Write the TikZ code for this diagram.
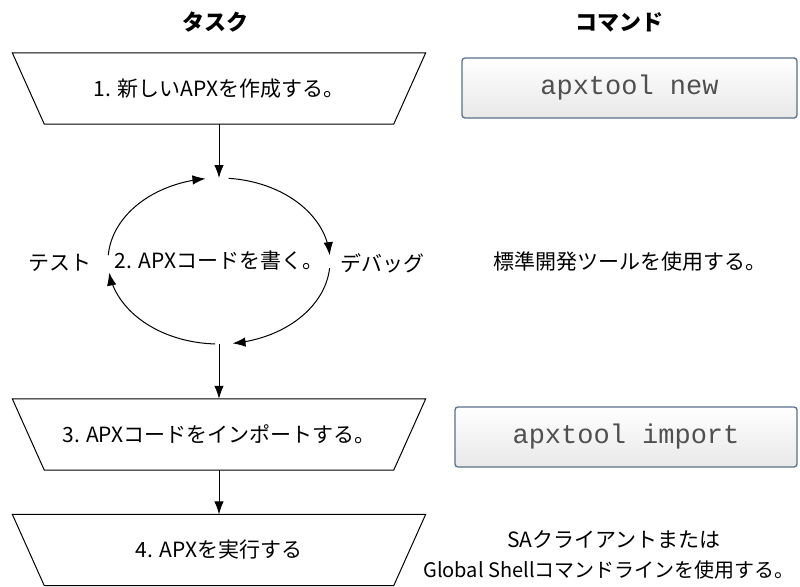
\documentclass[tikz,border=0pt]{standalone}
\usepackage{fontspec}
\setmainfont{Noto Sans CJK JP}
\newfontfamily\monofont{Liberation Mono}
\usetikzlibrary{arrows.meta}
\definecolor{boxedge}{RGB}{88,112,140}
\definecolor{cmdtext}{RGB}{80,80,80}
\tikzset{
  lw/.style={line width=1pt, draw=black},
  arr/.style={lw, -{Latex[length=13pt,width=9.5pt]}},
  tasktext/.style={font=\fontsize{21}{24}\selectfont, inner sep=0pt, minimum width=349pt, minimum height=71pt},
  head/.style={font=\fontsize{22}{26}\selectfont\bfseries},
  plain/.style={font=\fontsize{21}{26}\selectfont, align=center},
  cmdbox/.style={draw=boxedge, line width=1.3pt, rounded corners=3pt, top color=white, bottom color=black!9, minimum height=60pt, font=\monofont\fontsize{27}{30}\selectfont, text=cmdtext},
}
\newcommand{\trapz}[1]{%
  \draw[lw] ([xshift=-32pt]#1.north west) -- ([xshift=32pt]#1.north east) -- (#1.south east) -- (#1.south west) -- cycle;}
\begin{document}
\begin{tikzpicture}[x=1pt,y=-1pt]
\useasboundingbox (0,0) rectangle (800,586);
% headers
\node[head] (h1) at (215,22) {タスク};
\node[head] (h2) at (619,22) {コマンド};
% tasks
\node[tasktext] (t1) at (219,88.5) {1. 新しいAPXを作成する。};
\trapz{t1}
\node[tasktext] (t3) at (219,434.5) {3. APXコードをインポートする。};
\trapz{t3}
\node[tasktext] (t4) at (219,550) {4. APXを実行する};
\trapz{t4}
% commands
\node[cmdbox, minimum width=335pt] (c1) at (629.5,88) {apxtool new};
\node[cmdbox, minimum width=342pt] (c3) at (626,437) {apxtool import};
\node[plain] (c2) at (630,262) {標準開発ツールを使用する。};
\node[plain] (c4a) at (614,540) {SAクライアントまたは};
\node[plain, font=\fontsize{20}{24}\selectfont] (c4b) at (609,570) {Global Shellコマンドラインを使用する。};
% loop
\coordinate (ec) at (219,261);
\coordinate (etop) at (219,178);
\coordinate (ebot) at (219,344);
\node[plain] (l2) at (ec) {2. APXコードを書く。};
\node[plain] (lt) at (60,263) {テスト};
\node[plain] (ld) at (382,263) {デバッグ};
\begin{scope}[shift={(ec)}]
\draw[arr] plot[domain=184:263, samples=40, smooth, variable=\t] ({111*cos(\t)},{83*sin(\t)});
\draw[arr] plot[domain=275:356, samples=40, smooth, variable=\t] ({111*cos(\t)},{83*sin(\t)});
\draw[arr] plot[domain=5:83, samples=40, smooth, variable=\t] ({111*cos(\t)},{83*sin(\t)});
\draw[arr] plot[domain=92:172, samples=40, smooth, variable=\t] ({111*cos(\t)},{83*sin(\t)});
\end{scope}
% connectors
\draw[arr] (t1.south) -- (etop);
\draw[arr] (ebot) -- (t3.north);
\draw[arr] (t3.south) -- (t4.north);
\end{tikzpicture}
\end{document}
